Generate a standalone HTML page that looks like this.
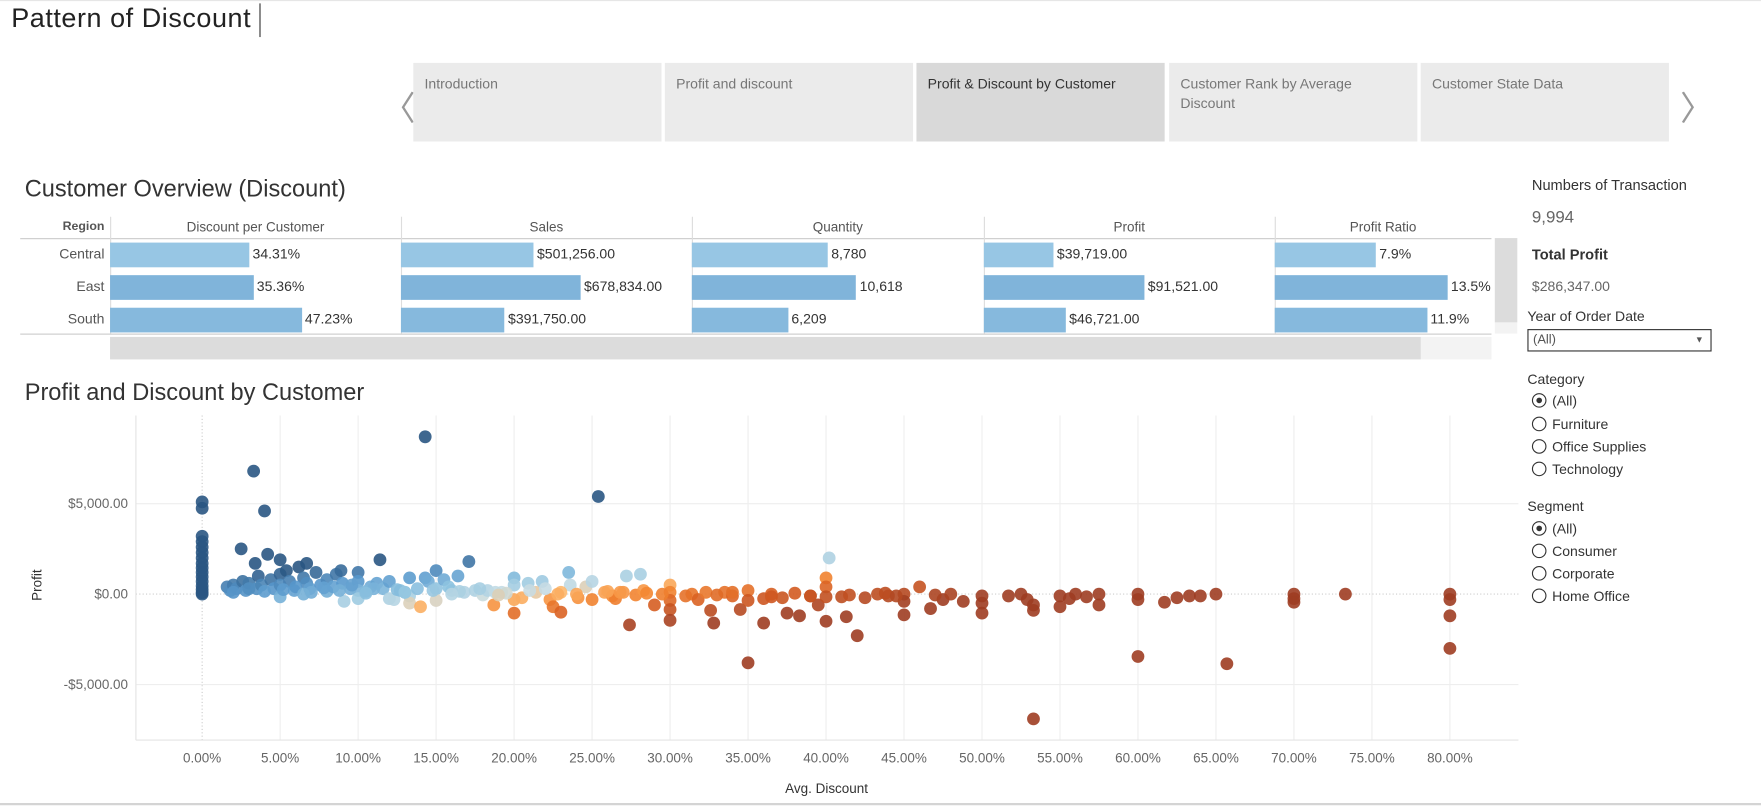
<!DOCTYPE html>
<html><head><meta charset="utf-8">
<style>
html,body{margin:0;padding:0;background:#fff;overflow:hidden;width:1761px;height:806px}
#wrap{position:absolute;left:0;top:0;width:1568px;height:718px;transform:scale(1.12309);transform-origin:0 0;font-family:"Liberation Sans",sans-serif;color:#333}
.a{position:absolute;white-space:nowrap}
.tab{position:absolute;top:56px;height:70px;width:221px;background:#ebebeb;font-size:12.5px;color:#777;box-sizing:border-box;padding:11px 10px;line-height:17px;white-space:normal}
.radio{position:absolute;left:1364px;font-size:12.5px;color:#333}
.radio i{display:inline-block;width:11px;height:11px;border:1px solid #333;border-radius:50%;vertical-align:-2px;margin-right:5px;position:relative}
.radio i.on:after{content:"";position:absolute;left:3px;top:3px;width:5px;height:5px;border-radius:50%;background:#333}
</style></head><body>
<div id="wrap">
<div class="a" style="left:0;top:0;width:1568px;height:1px;background:#e6e6e6"></div>
<div class="a" style="left:10px;top:3px;font-size:24px;color:#222;letter-spacing:0.5px">Pattern of Discount</div>
<div class="a" style="left:231px;top:3px;width:1px;height:30px;background:#333"></div>

<div class="a" style="left:340px;top:72px;font-size:30px;color:#999">&#x2329;</div>
<div class="tab" style="left:368px">Introduction</div>
<div class="tab" style="left:592px">Profit and discount</div>
<div class="tab" style="left:816px;background:#d9d9d9;color:#333">Profit &amp; Discount by Customer</div>
<div class="tab" style="left:1041px">Customer Rank by Average Discount</div>
<div class="tab" style="left:1265px">Customer State Data</div>
<div class="a" style="left:1496px;top:72px;font-size:30px;color:#999">&#x232A;</div>

<div class="a" style="left:22px;top:157px;font-size:21px;color:#333">Customer Overview (Discount)</div>
<div id="table"></div>

<div class="a" style="left:1364px;top:157px;font-size:13px">Numbers of Transaction</div>
<div class="a" style="left:1364px;top:185px;font-size:15px;color:#666">9,994</div>
<div class="a" style="left:1364px;top:219px;font-size:13px;font-weight:bold">Total Profit</div>
<div class="a" style="left:1364px;top:248px;font-size:12.5px;color:#666">$286,347.00</div>
<div class="a" style="left:1360px;top:275px;font-size:12.5px">Year of Order Date</div>
<div class="a" style="left:1360px;top:293px;width:162px;height:18px;border:1px solid #333;font-size:11.5px;color:#555;line-height:18px;box-sizing:content-box"><span style="margin-left:4px">(All)</span><span style="position:absolute;right:6px;font-size:8px">&#9660;</span></div>
<div class="a" style="left:1360px;top:331px;font-size:12.5px">Category</div>
<div class="radio" style="top:350px"><i class="on"></i>(All)</div>
<div class="radio" style="top:371px"><i></i>Furniture</div>
<div class="radio" style="top:391px"><i></i>Office Supplies</div>
<div class="radio" style="top:411px"><i></i>Technology</div>
<div class="a" style="left:1360px;top:444px;font-size:12.5px">Segment</div>
<div class="radio" style="top:464px"><i class="on"></i>(All)</div>
<div class="radio" style="top:484px"><i></i>Consumer</div>
<div class="radio" style="top:504px"><i></i>Corporate</div>
<div class="radio" style="top:524px"><i></i>Home Office</div>

<div class="a" style="left:22px;top:338px;font-size:21px;color:#333">Profit and Discount by Customer</div>
<svg class="a" id="scatter" style="left:0;top:360px" width="1360" height="358"></svg>
<div class="a" style="left:0;top:715px;width:1568px;height:2px;background:#d4d4d4"></div>
</div>
<script>
// ---- overview table data ----
const regions=["Central","East","South"];
const discountPct=[34.31,35.36,47.23];
const salesVals=[501256,678834,391750];
const quantityVals=[8780,10618,6209];
const profitVals=[39719,91521,46721];
const ratioVals=[7.9,13.5,11.9];
const colHeaders=["Discount per Customer","Sales","Quantity","Profit","Profit Ratio"];

// ---- scatter data ----
const avgDiscount=[0,0,0,0,0,0,0,0,0,0,0,0,0,0,0,0,
1.6,1.8,2.0,2.2,2.5,2.6,2.8,3.0,3.3,3.4,3.5,3.6,3.8,4.0,4.2,4.4,4.6,5.0,5.0,5.0,5.0,5.4,5.6,5.9,6.2,6.5,6.7,6.7,6.9,7.3,7.6,8.0,8.0,8.4,8.6,8.9,9.0,9.1,9.5,10.0,10.0,10.0,10.0,10.8,11.2,11.4,11.6,12.0,12.0,12.3,12.7,13.3,13.3,13.3,13.8,14.0,14.3,14.3,14.5,15.0,15.0,15.0,15.5,16.0,16.4,16.8,17.1,17.5,18.0,18.3,18.7,19.2,
20.0,20.0,20.0,20.0,20.5,20.9,21.4,21.8,22.3,22.5,23.0,23.5,23.6,24.1,24.6,25.0,25.0,25.4,25.8,26.3,26.5,27.2,27.4,27.8,28.1,28.3,29.0,
30.0,30.0,30.0,30.0,30.0,31.4,31.8,32.3,32.6,32.8,33.5,34.0,34.5,35.0,35.0,35.0,36.0,36.0,36.5,37.2,37.5,38.3,39.0,39.5,
40.0,40.0,40.0,40.0,40.2,41.0,41.3,42.0,42.5,43.3,44.0,45.0,45.0,45.0,46.0,46.7,47.5,48.0,48.8,
50.0,50.0,50.0,51.7,52.5,52.9,53.3,53.3,53.3,55.0,55.0,55.6,56.0,56.7,57.5,57.5,60.0,60.0,60.0,61.7,62.5,63.3,64.0,65.0,65.7,70.0,70.0,70.0,73.3,80.0,80.0,80.0,80.0,
2.0,3.0,4.0,5.2,6.0,7.0,7.8,8.8,9.6,10.5,11.0,12.5,13.0,14.8,15.8,16.5,17.8,18.8,19.5,21.0,22.0,23.0,24.0,26.0,27.0,28.5,29.5,31.0,33.0,34.0,36.5,38.0,39.0,41.5,43.8,44.5,47.0,6.5,10.5,13.0,16.0,19.0,22.8,26.8];
const profit=[5100,4750,3200,2900,2600,2300,2000,1700,1450,1200,950,700,450,250,80,0,
400,200,500,300,2500,700,200,600,6800,1700,300,1000,500,4600,2200,800,300,1900,1100,500,-150,1300,700,200,1500,900,1700,600,300,1200,500,800,150,400,1100,1300,600,-400,300,1200,700,200,-250,400,600,1900,300,700,-250,-300,200,900,-100,-500,300,-700,8700,900,700,1300,300,-350,800,200,1000,100,1800,200,-50,200,-600,100,
900,500,-300,-1050,-200,600,100,700,-300,-700,-1000,1200,500,-200,400,700,-300,5400,100,-100,-250,1000,-1700,-50,1100,200,-600,
500,100,-350,-850,-1450,0,-300,100,-900,-1600,100,-100,-850,200,-350,-3800,-250,-1600,0,-200,-1050,-1200,-100,-600,
900,400,-150,-1500,2000,-150,-1250,-2300,-200,0,-100,0,-400,-1150,400,-800,-300,0,-400,
-100,-500,-1050,-100,0,-300,-600,-900,-6900,-100,-700,-250,0,-150,0,-600,0,-300,-3450,-450,-200,-100,-100,0,-3850,0,-250,-450,0,0,-300,-1200,-3000,
100,300,150,250,400,100,350,200,500,150,300,250,100,200,400,150,300,100,50,200,300,100,0,150,100,50,0,-100,-50,100,-150,50,-100,-50,50,-100,-50,0,50,100,0,-50,0,100];
const xTicks=[0,5,10,15,20,25,30,35,40,45,50,55,60,65,70,75,80];
const yTicks=[5000,0,-5000];
const yTickLabels=["$5,000.00","$0.00","-$5,000.00"];

const NS="http://www.w3.org/2000/svg";
function fmtMoney(v){return "$"+v.toLocaleString("en-US",{minimumFractionDigits:2,maximumFractionDigits:2});}
// ---- build table ----
(function(){
  const t=document.getElementById('table');
  const colX=[98,357,616,876,1135];
  const colEnd=[357,616,876,1135,1328];
  const rowTop=[216,245,274];
  const barColors=["#97c6e4","#80b4da","#86b9dd"];
  const scales=[3.61,1/4243,1/72.5,1/640,11.4];
  const series=[discountPct,salesVals,quantityVals,profitVals,ratioVals];
  const fmts=[v=>v.toFixed(2)+"%",fmtMoney,v=>v.toLocaleString("en-US"),fmtMoney,v=>v.toFixed(1)+"%"];
  function add(html,style,name){const d=document.createElement('div');d.className='a';d.style.cssText=style;d.innerHTML=html;
    
    
    t.appendChild(d);return d;}
  add("Region","left:18px;top:196px;width:75px;text-align:right;font-size:11px;font-weight:bold;color:#555","region-header");
  add("","left:18px;top:212px;width:1310px;height:1px;background:#ccc","header-rule");
  add("","left:18px;top:297px;width:1310px;height:1px;background:#ccc","table-bottom-rule");
  add("","left:98px;top:300px;width:1230px;height:20px;background:#f3f3f3","h-scroll-track");
  add("","left:98px;top:300px;width:1167px;height:20px;background:#dcdcdc","h-scroll-thumb");
  add("","left:1331px;top:212px;width:20px;height:85px;background:#f3f3f3","v-scroll-track");
  add("","left:1331px;top:212px;width:20px;height:75px;background:#dcdcdc","v-scroll-thumb");
  for(let c=0;c<5;c++){
    add(colHeaders[c],`left:${colX[c]}px;top:195px;width:${colEnd[c]-colX[c]}px;text-align:center;font-size:12px;color:#555`,"column-header");
    add("",`left:${colX[c]}px;top:193px;width:1px;height:104px;background:#ddd`,"column-divider");
    for(let r=0;r<3;r++){
      const w=series[c][r]*scales[c];
      add("",`left:${colX[c]}px;top:${rowTop[r]}px;width:${w}px;height:22px;background:${barColors[r]}`,"table-bar");
      add(fmts[c](series[c][r]),`left:${colX[c]+w+3}px;top:${rowTop[r]+3}px;font-size:12.5px;color:#333`,"table-value");
    }
  }
  for(let r=0;r<3;r++){
    add(regions[r],`left:18px;top:${rowTop[r]+3}px;width:75px;text-align:right;font-size:12.5px;color:#555`,"region-label");
  }
})();
// ---- scatter ----
(function(){
  const svg=document.getElementById('scatter');
  const oy=360;
  const X=d=>180+d*13.8875;
  const Y=p=>529-oy-p*0.0161;
  function el(tag,attrs){const e=document.createElementNS(NS,tag);for(const k in attrs)e.setAttribute(k,attrs[k]);svg.appendChild(e);return e;}
  xTicks.forEach(t=>{const g=el('line',{x1:X(t),x2:X(t),y1:10,y2:299,stroke:t===0?'#ccc':'#eee','stroke-dasharray':t===0?'1,2':''});
    
    
    const l=el('text',{x:X(t),y:319,'text-anchor':'middle','font-size':12,fill:'#666','font-family':'Liberation Sans, sans-serif'});l.textContent=t.toFixed(2)+"%";
    
    });
  yTicks.forEach((t,i)=>{const g=el('line',{x1:121,x2:1352,y1:Y(t),y2:Y(t),stroke:t===0?'#ccc':'#eee','stroke-dasharray':t===0?'1,2':''});
    
    
    const l=el('text',{x:114,y:Y(t)+4,'text-anchor':'end','font-size':12,fill:'#666','font-family':'Liberation Sans, sans-serif'});l.textContent=yTickLabels[i];
    
    });
  const ax=el('line',{x1:121,x2:1352,y1:299,y2:299,stroke:'#e4e4e4'});
  
  
  const ay=el('line',{x1:121,x2:121,y1:10,y2:299,stroke:'#e4e4e4'});
  
  
  const xt=el('text',{x:736,y:346,'text-anchor':'middle','font-size':12,fill:'#333','font-family':'Liberation Sans, sans-serif'});xt.textContent="Avg. Discount";
  
  
  const yt=el('text',{x:0,y:0,'text-anchor':'middle','font-size':12,fill:'#333','font-family':'Liberation Sans, sans-serif',transform:`translate(37,${521-oy}) rotate(-90)`});yt.textContent="Profit";
  
  
  const stops=[[-1,[158,61,34]],[-0.55,[212,91,33]],[-0.25,[244,135,50]],[-0.05,[253,184,110]],[0.05,[200,221,228]],[0.3,[140,194,224]],[0.6,[88,152,204]],[1,[42,87,131]]];
  function color(d,p){let t=p/2500+(0.2-d/100)*3.2;if(d===0)t=1;t=Math.max(-1,Math.min(1,t));
    for(let i=0;i<stops.length-1;i++){const a=stops[i],b=stops[i+1];if(t<=b[0]){const f=(t-a[0])/(b[0]-a[0]);return `rgb(${a[1].map((v,k)=>Math.round(v+(b[1][k]-v)*f)).join(',')})`;}}
    return 'rgb(42,87,131)';}
  const n=Math.min(avgDiscount.length,profit.length);
  for(let i=0;i<n;i++){
    const c=el('circle',{cx:X(avgDiscount[i]),cy:Y(profit[i]),r:5.7,fill:color(avgDiscount[i],profit[i]),'fill-opacity':0.9});
    
    
  }
})();
</script>
</body></html>
